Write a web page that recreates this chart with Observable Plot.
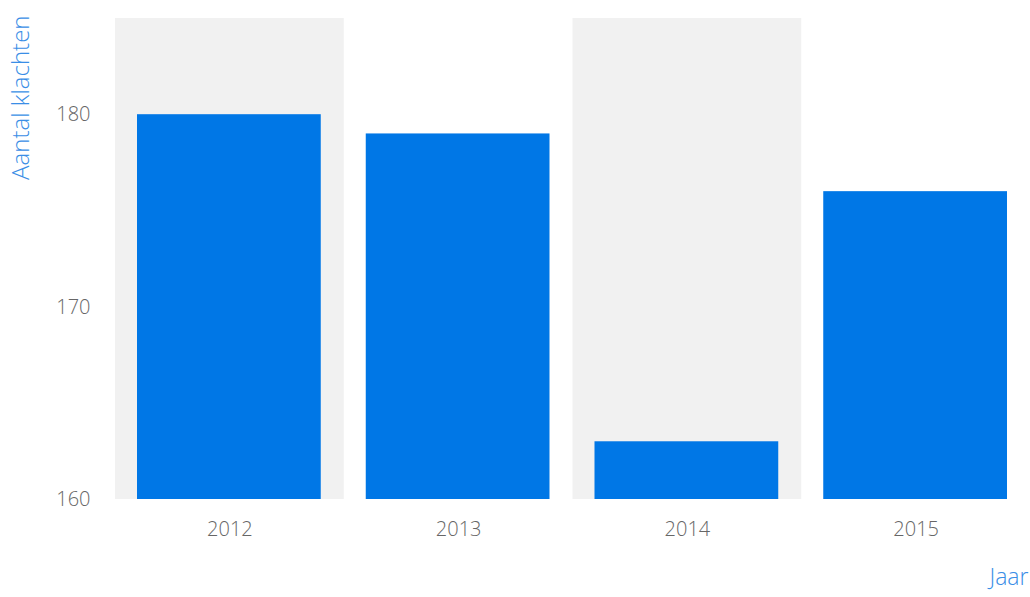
<!DOCTYPE html>
<html>
<head>
<meta charset="utf-8">
<script src="https://cdn.jsdelivr.net/npm/d3@7"></script>
<script src="https://cdn.jsdelivr.net/npm/@observablehq/plot@0.6"></script>
<style>
  html, body { margin: 0; padding: 0; background: #fff; }
  svg { font-family: "Open Sans", sans-serif; font-weight: 300; }
</style>
</head>
<body>
<div id="chart"></div>
<script>
const years = ["2012", "2013", "2014", "2015"];
const complaints = [180, 179, 163, 176];
const shadedYears = ["2012", "2014"];
const yTicks = [160, 170, 180];
const yLabel = "Aantal klachten";
const xLabel = "Jaar";

const data = years.map((y, i) => ({year: y, value: complaints[i]}));

const chart = Plot.plot({
  width: 1030,
  height: 597,
  marginLeft: 115,
  marginRight: 0,
  marginTop: 18,
  marginBottom: 98,
  style: {fontFamily: "Open Sans, sans-serif", fontSize: "20px", color: "#666", background: "#fff"},
  x: {type: "band", domain: years, padding: 0, round: false, label: null},
  y: {domain: [160, 185], label: null},
  marks: [
    Plot.cell(shadedYears, {x: d => d, fill: "#f1f1f1", inset: 0}),
    Plot.barY(data, {x: "year", y1: 160, y2: "value", fill: "#0077e6", insetLeft: 22, insetRight: 23}),
    Plot.axisY({ticks: yTicks, tickSize: 0, tickPadding: 25, fill: "#666", fontSize: 20, label: null}),
    Plot.axisX({tickSize: 0, tickPadding: 22, fill: "#666", fontSize: 20, label: null}),
    Plot.text([yLabel], {frameAnchor: "top-left", text: d => d, rotate: -90, textAnchor: "end", dx: -104, dy: -3, fill: "#3a8ee6", fontSize: 24}),
    Plot.text([xLabel], {frameAnchor: "bottom-right", text: d => d, textAnchor: "end", dx: -2, dy: 85, fill: "#3a8ee6", fontSize: 23})
  ]
});
document.getElementById("chart").appendChild(chart);
</script>
</body>
</html>
